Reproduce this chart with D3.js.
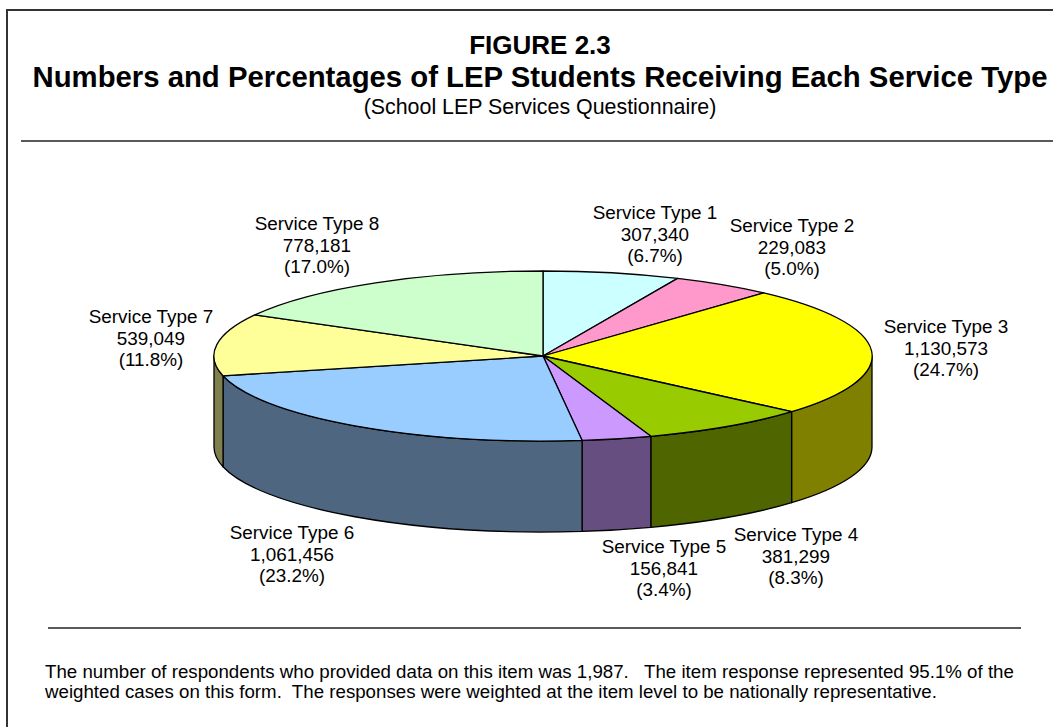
<!DOCTYPE html>
<html>
<head>
<meta charset="utf-8">
<script src="https://cdn.jsdelivr.net/npm/d3@7"></script>
<style>
html, body { margin: 0; padding: 0; background: #fff; overflow: hidden; }
text { font-family: "Liberation Sans", Arial, sans-serif; fill: #000; }
</style>
</head>
<body>
<script>
var categories = ['Service Type 1', 'Service Type 2', 'Service Type 3', 'Service Type 4',
                  'Service Type 5', 'Service Type 6', 'Service Type 7', 'Service Type 8'];
var counts = [307340, 229083, 1130573, 381299, 156841, 1061456, 539049, 778181];
var percents = ['6.7', '5.0', '24.7', '8.3', '3.4', '23.2', '11.8', '17.0'];
var topColors = ['#CCFFFF', '#FF99CC', '#FFFF00', '#99CC00', '#CC99FF', '#99CCFF', '#FFFF99', '#CCFFCC'];
var sideColors = ['#666680', '#804F66', '#808000', '#4F6600', '#664F80', '#4F6680', '#80804F', '#668066'];
// label centre x, first baseline y
var labelPos = [[655, 219], [792, 232], [946, 333], [796, 541], [664, 553], [292, 539], [151, 323], [317, 230]];
var titleLines = ['FIGURE 2.3', 'Numbers and Percentages of LEP Students Receiving Each Service Type'];
var subtitle = '(School LEP Services Questionnaire)';
var notes = ['The number of respondents who provided data on this item was 1,987.   The item response represented 95.1% of the',
             'weighted cases on this form.  The responses were weighted at the item level to be nationally representative.'];

var ww = 1053, hh = 727;
var cx = 543, cy = 356, rx = 329, ry = 85, depth = 91;

var svg = d3.select('body').append('svg').attr('width', ww).attr('height', hh).style('display', 'block');

// frame
svg.append('path').attr('d', 'M1053,10H7V727').attr('fill', 'none').attr('stroke', '#333').attr('stroke-width', 2);

// header
svg.append('text').attr('x', 540).attr('y', 53.5).attr('text-anchor', 'middle')
    .attr('font-size', 26).attr('font-weight', 'bold').text(titleLines[0]);
svg.append('text').attr('x', 540).attr('y', 87).attr('text-anchor', 'middle')
    .attr('font-size', 29.3).attr('font-weight', 'bold').text(titleLines[1]);
svg.append('text').attr('x', 540).attr('y', 113.5).attr('text-anchor', 'middle')
    .attr('font-size', 21.4).text(subtitle);
svg.append('line').attr('x1', 21).attr('x2', 1053).attr('y1', 141).attr('y2', 141).attr('stroke', '#222').attr('stroke-width', 1.5);

// pie
var pie = d3.pie().sort(null).value(function(d) { return d; });
var arcs = pie(counts);
var px = function(a) { return cx + rx * Math.sin(a); };
var py = function(a) { return cy - ry * Math.cos(a); };

var sides = svg.append('g');
arcs.forEach(function(d, i) {
    // only the front half of the rim can be seen
    var a0 = Math.max(d.startAngle, Math.PI / 2), a1 = Math.min(d.endAngle, Math.PI * 1.5);
    if (a1 <= a0) return;
    var s = 'M' + px(a0) + ',' + py(a0)
        + 'A' + rx + ',' + ry + ' 0 0 1 ' + px(a1) + ',' + py(a1)
        + 'L' + px(a1) + ',' + (py(a1) + depth)
        + 'A' + rx + ',' + ry + ' 0 0 0 ' + px(a0) + ',' + (py(a0) + depth) + 'Z';
    sides.append('path').attr('d', s).attr('fill', sideColors[i]).attr('stroke', '#000').attr('stroke-width', 1.3).attr('stroke-linejoin', 'round');
});

var arc = d3.arc().innerRadius(0).outerRadius(1);
svg.append('g').attr('transform', 'translate(' + cx + ',' + cy + ') scale(' + rx + ',' + ry + ')')
    .selectAll('path').data(arcs).enter().append('path')
    .attr('d', arc)
    .attr('fill', function(d, i) { return topColors[i]; })
    .attr('stroke', '#000').attr('stroke-width', 1.3).attr('stroke-linejoin', 'round')
    .attr('vector-effect', 'non-scaling-stroke');

// labels
var fmt = d3.format(',');
var labels = svg.append('g').attr('font-size', 18.9).attr('text-anchor', 'middle');
categories.forEach(function(c, i) {
    var rows = [c, fmt(counts[i]), '(' + percents[i] + '%)'];
    rows.forEach(function(r, j) {
        labels.append('text').attr('x', labelPos[i][0]).attr('y', labelPos[i][1] + j * 21.5).text(r);
    });
});

// footer
svg.append('line').attr('x1', 48).attr('x2', 1021).attr('y1', 628).attr('y2', 628).attr('stroke', '#222').attr('stroke-width', 1.5);
notes.forEach(function(n, i) {
    svg.append('text').attr('x', 45).attr('y', 678 + i * 20).attr('font-size', 18.7).style('white-space', 'pre').text(n);
});
</script>
</body>
</html>
